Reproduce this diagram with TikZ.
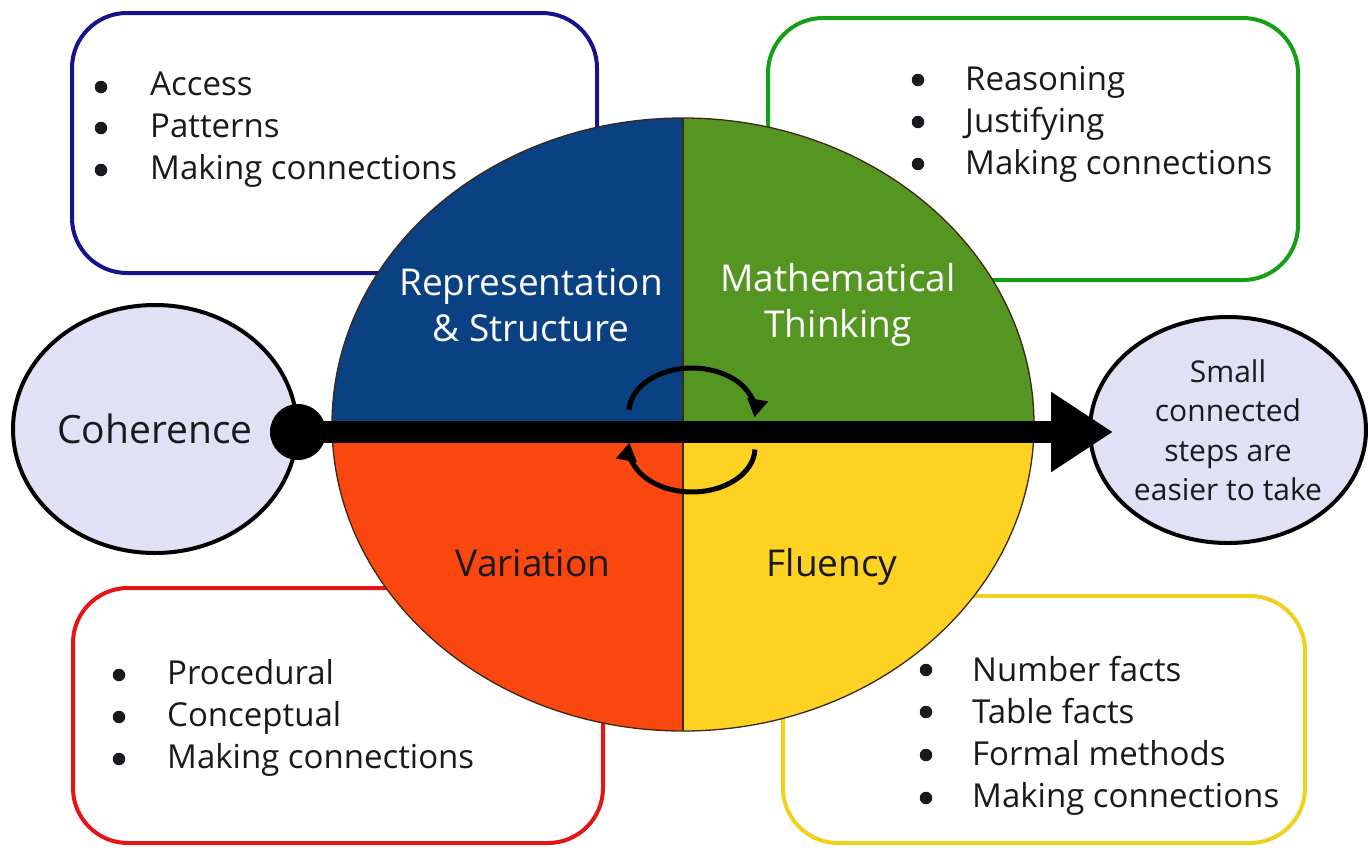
\documentclass[tikz,border=0pt]{standalone}
\usepackage{fontspec}
\setmainfont{Open Sans}
\usetikzlibrary{arrows.meta,shapes.geometric}
\definecolor{bluebox}{RGB}{20,20,140}
\definecolor{greenbox}{RGB}{20,160,20}
\definecolor{redbox}{RGB}{230,20,20}
\definecolor{yellowbox}{RGB}{240,210,30}
\definecolor{qblue}{RGB}{10,65,130}
\definecolor{qgreen}{RGB}{85,150,35}
\definecolor{qred}{RGB}{250,70,15}
\definecolor{qyellow}{RGB}{253,210,35}
\definecolor{lav}{RGB}{225,225,245}
\definecolor{ink}{RGB}{25,25,30}
\definecolor{divline}{RGB}{60,40,20}
\tikzset{
  listbox/.style={rounded corners=55pt, line width=4pt, fill=white, inner sep=0pt},
  listtext/.style={anchor=west, align=left, inner sep=0pt, text=ink, font=\fontsize{33}{42}\selectfont},
  bul/.style={circle, fill=ink, minimum size=12.5pt, inner sep=0pt},
  qlabel/.style={align=center, inner sep=0pt, font=\fontsize{37}{46}\selectfont},
  bubble/.style={ellipse, draw=black, line width=4pt, fill=lav, inner sep=0pt, text=ink},
  cyc/.style={line width=5pt, -{Triangle[length=18pt,width=20pt]}}
}
\begin{document}
\begin{tikzpicture}[x=1pt,y=-1pt]
\useasboundingbox (0,0) rectangle (1368,849);

% list boxes
\node[listbox, draw=bluebox, minimum width=525pt, minimum height=260pt] (bbox) at (334.5,143) {};
\node[listbox, draw=greenbox, minimum width=530pt, minimum height=262pt] (gbox) at (1033,149) {};
\node[listbox, draw=redbox, minimum width=530pt, minimum height=255pt] (rbox) at (338,715.5) {};
\node[listbox, draw=yellowbox, minimum width=522pt, minimum height=247pt] (ybox) at (1044,719.5) {};

% list texts
\node[listtext] (blist) at (150,130) {Access\\Patterns\\Making connections};
\node[listtext] (glist) at (965,124) {Reasoning\\Justifying\\Making connections};
\node[listtext] (rlist) at (167,718) {Procedural\\Conceptual\\Making connections};
\node[listtext] (ylist) at (972,736) {Number facts\\Table facts\\Formal methods\\Making connections};

% bullets
\foreach \y [count=\i] in {87,128,170} \node[bul] (bb\i) at (101,\y) {};
\foreach \y [count=\i] in {80,122,164} \node[bul] (gb\i) at (918,\y) {};
\foreach \y [count=\i] in {675,717,759} \node[bul] (rb\i) at (119,\y) {};
\foreach \y [count=\i] in {670,712,755,798} \node[bul] (yb\i) at (926,\y) {};

% main circle
\node[ellipse, minimum width=702pt, minimum height=613pt, inner sep=0pt,
  path picture={
    \fill[qblue] (path picture bounding box.north west) rectangle (path picture bounding box.center);
    \fill[qgreen] (path picture bounding box.north east) rectangle (path picture bounding box.center);
    \fill[qred] (path picture bounding box.south west) rectangle (path picture bounding box.center);
    \fill[qyellow] (path picture bounding box.south east) rectangle (path picture bounding box.center);
    \draw[divline, line width=1.3pt] (path picture bounding box.north) -- (path picture bounding box.south);
    \draw[divline, line width=1.3pt] (path picture bounding box.west) -- (path picture bounding box.east);
  },
  draw=divline, line width=1.3pt] (main) at (683,424.5) {};

% side bubbles
\node[bubble, minimum width=284pt, minimum height=248pt, font=\fontsize{39}{46}\selectfont] (coh) at (155,429) {Coherence\hspace{8pt}};
\node[bubble, minimum width=276pt, minimum height=226pt, align=center, font=\fontsize{30}{39.5}\selectfont] (steps) at (1228,430) {Small\\connected\\steps are\\easier to take};

% main arrow
\node[circle, fill=black, minimum size=56pt, inner sep=0pt] (dot) at (298,432) {};
\coordinate (tip) at (1113,432);
\draw[line width=22pt, -{Triangle[length=62pt,width=76pt]}] (dot.center) -- (tip);

% cycle arrows
\draw[cyc] (629.1,409.7) arc[start angle=183, end angle=367, x radius=63, y radius=44];
\draw[cyc] (754.96,449.5) arc[start angle=2, end angle=187, x radius=63, y radius=44];

% quadrant labels
\node[qlabel, text=white] (rs) at (531,305) {Representation\\\& Structure};
\node[qlabel, text=white] (mt) at (838,305) {Mathematical\\Thinking};
\node[qlabel, text=ink] (var) at (533,563) {Variation};
\node[qlabel, text=ink] (flu) at (832,567) {Fluency};
\end{tikzpicture}
\end{document}
